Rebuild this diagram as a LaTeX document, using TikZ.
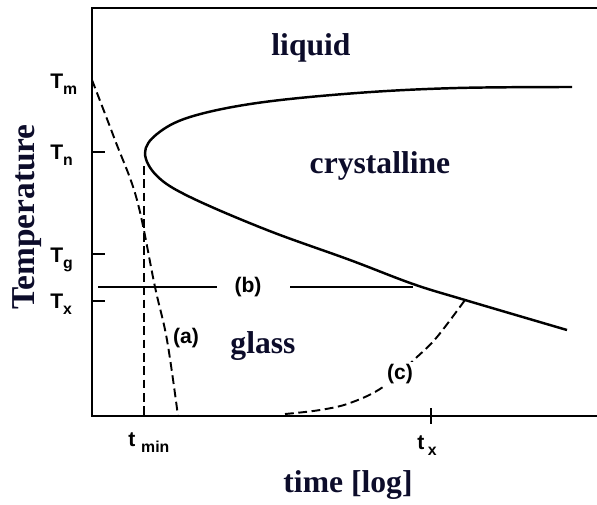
\documentclass[tikz,border=0pt]{standalone}
\usepackage{fontspec}
\setmainfont{Liberation Serif}
\setsansfont{Liberation Sans}
\usepackage{tikz}
\usetikzlibrary{positioning}
\definecolor{ink}{HTML}{0C0C2A}
\tikzset{
  axis/.style={line width=1.1pt,line cap=rect},
  nose/.style={line width=1.4pt},
  cool/.style={line width=1.1pt,dash pattern=on 5pt off 2.6pt},
  tlab/.style={font=\sffamily\bfseries\fontsize{12}{14}\selectfont,anchor=base west,inner sep=0pt},
  plab/.style={font=\sffamily\bfseries\fontsize{12}{14}\selectfont,inner sep=1pt},
  region/.style={font=\bfseries\fontsize{18}{20}\selectfont,text=ink,inner sep=0pt},
}
\newcommand{\sbs}[1]{\raisebox{-0.55ex}{\fontsize{9}{10}\selectfont #1}}
\begin{document}
\begin{tikzpicture}[x=0.02cm,y=-0.02cm]
  \useasboundingbox (0,0) rectangle (597,504);
  % axes frame, open on the right
  \draw[axis] (597,8) -- (92,8) -- (92,416) -- (597,416);
  % ticks
  \draw[axis] (92,152) -- (104,152);
  \draw[axis] (92,254) -- (104,254);
  \draw[axis] (92,301) -- (104,301);
  \draw[axis] (431,409) -- (431,423);
  % tick labels
  \node[tlab] (tm) at (50,88) {T\sbs{m}};
  \node[tlab] (tn) at (50,159) {T\sbs{n}};
  \node[tlab] (tg) at (50,262) {T\sbs{g}};
  \node[tlab] (tx) at (50,308) {T\sbs{x}};
  \node[tlab] (tmin) at (128,446) {t \sbs{min}};
  \node[tlab] (tcx) at (417,449) {t\,\sbs{x}};
  % axis titles
  \node[region,rotate=90,font=\bfseries\fontsize{19}{21}\selectfont] (ylab) at (27,217) {Temperature};
  \node[region,anchor=base] (xlab) at (348,492) {time [log]};
  % nose of the TTT curve
  \draw[nose] plot[smooth,tension=0.6] coordinates {(572,87) (457,88) (357,93) (257,103) (190,117) (157,134) (145,153) (157,176) (190,197) (267,230) (350,260) (413,284) (465,300) (567,330)};
  % cooling paths
  \draw[cool] plot[smooth,tension=0.6] coordinates {(92,80) (115,140) (137,200) (155,287) (167,340) (178,416)};
  \draw[cool] (144,166) -- (144,416);
  \draw[cool] plot[smooth,tension=0.6] coordinates {(285,414) (320,410) (350,403) (383,387) (417,357) (437,337) (465,300)};
  \draw[axis,line cap=butt] (98,287) -- (217,287);
  \draw[axis,line cap=butt] (290,287) -- (413,287);
  % region and path labels
  \node[region] (liq) at (311,48) {liquid};
  \node[region] (cry) at (380,166) {crystalline};
  \node[region] (gla) at (263,346) {glass};
  \node[plab] (pa) at (186,338) {(a)};
  \node[plab] (pb) at (248,287) {(b)};
  \node[plab,fill=white] (pc) at (400,374) {(c)};
\end{tikzpicture}
\end{document}
